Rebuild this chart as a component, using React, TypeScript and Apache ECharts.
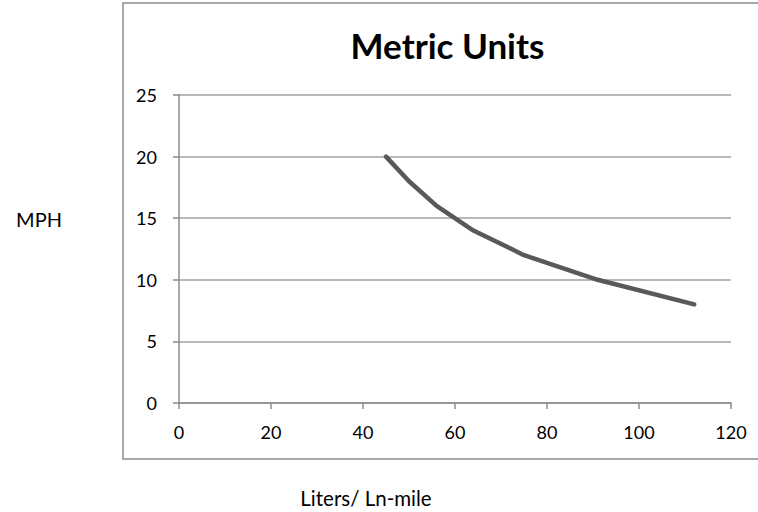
import React, { useEffect, useRef } from "react";
import * as echarts from "echarts";

const litersPerLnMile = [45, 50, 56, 64, 75, 91, 112];
const mph = [20, 18, 16, 14, 12, 10, 8];
const xTicks = [0, 20, 40, 60, 80, 100, 120];
const yTicks = [0, 5, 10, 15, 20, 25];

const FONT = "Lato, 'Noto Sans', sans-serif";

export default function App() {
  const ref = useRef<HTMLDivElement>(null);
  useEffect(() => {
    if (!ref.current) return;
    const chart = echarts.init(ref.current, undefined, { renderer: "svg" });
    chart.setOption({
      animation: false,
      backgroundColor: "#ffffff",
      grid: { left: 179, right: 27, top: 95, bottom: 109 },
      xAxis: {
        type: "value",
        min: xTicks[0],
        max: xTicks[xTicks.length - 1],
        interval: 20,
        axisLine: { show: true, lineStyle: { color: "#8c8c8c", width: 1.5 } },
        axisTick: { show: true, length: 6, lineStyle: { color: "#8c8c8c", width: 1.5 } },
        axisLabel: { margin: 20, fontFamily: FONT, fontSize: 18, color: "#000" },
        splitLine: { show: false },
      },
      yAxis: {
        type: "value",
        min: yTicks[0],
        max: yTicks[yTicks.length - 1],
        interval: 5,
        axisLine: { show: true, lineStyle: { color: "#8c8c8c", width: 1.5 } },
        axisTick: { show: true, length: 6, lineStyle: { color: "#8c8c8c", width: 1.5 } },
        axisLabel: { margin: 22, fontFamily: FONT, fontSize: 18, color: "#000" },
        splitLine: { show: true, lineStyle: { color: "#a0a0a0", width: 1.5 } },
      },
      series: [
        {
          type: "line",
          data: litersPerLnMile.map((x, i) => [x, mph[i]]),
          showSymbol: false,
          symbol: "none",
          lineStyle: { color: "#595959", width: 4.5, cap: "round", join: "round" },
        },
      ],
      graphic: [
        {
          type: "rect",
          shape: { x: 123, y: 3, width: 660, height: 456 },
          style: { fill: "none", stroke: "#8c8c8c", lineWidth: 1.5 },
          z: -1,
        },
        {
          type: "text",
          x: 447.5,
          y: 45,
          style: {
            text: "Metric Units",
            fontFamily: FONT,
            fontWeight: "bold",
            fontSize: 35,
            fill: "#000",
            textAlign: "center",
            textVerticalAlign: "middle",
          },
        },
        {
          type: "text",
          x: 39,
          y: 218.5,
          style: {
            text: "MPH",
            fontFamily: FONT,
            fontSize: 20,
            fill: "#000",
            textAlign: "center",
            textVerticalAlign: "middle",
          },
        },
        {
          type: "text",
          x: 366,
          y: 498,
          style: {
            text: "Liters/ Ln-mile",
            fontFamily: FONT,
            fontSize: 20.5,
            fill: "#000",
            textAlign: "center",
            textVerticalAlign: "middle",
          },
        },
      ],
    });
    return () => chart.dispose();
  }, []);
  return <div ref={ref} style={{ width: 758, height: 512, position: "absolute", left: 0, top: 0 }} />;
}
